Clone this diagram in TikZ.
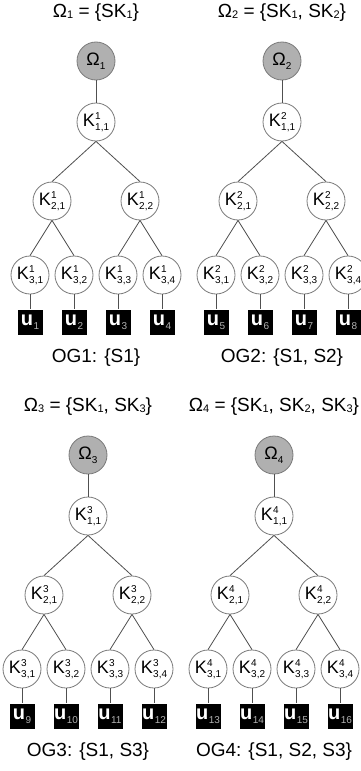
\documentclass[tikz,border=0pt]{standalone}
\usepackage{fontspec}
\setmainfont{Liberation Sans}
\newcommand{\ts}[1]{\raisebox{-1pt}{\fontsize{11}{11}\selectfont #1}}
\newcommand{\kl}[3]{K\kern0.3pt\makebox[0pt][l]{\raisebox{7pt}{\fontsize{10}{10}\selectfont #1}}\raisebox{-4.5pt}{\fontsize{10}{10}\selectfont #2,#3}}
\newcommand{\oml}[1]{\fontsize{18}{18}\selectfont\char"03A9\raisebox{-4pt}{\fontsize{10}{10}\selectfont #1}}
\newcommand{\ul}[1]{\textbf{u}\kern0.5pt\raisebox{-4pt}{\fontsize{10}{10}\selectfont\color{black!30}#1}}
\definecolor{rootgray}{HTML}{B0B0B0}
\definecolor{edgegray}{HTML}{505050}
\definecolor{ringgray}{HTML}{7A7A7A}
\tikzset{
  knode/.style={circle, draw=ringgray, line width=0.8pt, fill=white, minimum size=38pt, inner sep=0pt, font=\fontsize{18}{18}\selectfont},
  rnode/.style={knode, fill=rootgray, draw=ringgray},
  ubox/.style={rectangle, fill=black, minimum width=25pt, minimum height=25pt, inner sep=0pt, text=white, font=\fontsize{20}{20}\selectfont},
  link/.style={draw=edgegray, line width=0.8pt},
  ttext/.style={font=\fontsize{19}{22}\selectfont, inner sep=0pt},
}
\begin{document}
\begin{tikzpicture}[x=1pt,y=-1pt]
\useasboundingbox (0,0) rectangle (360,771);
\fill[white] (0,0) rectangle (360,771);
\foreach \t/\cx/\ry/\ttl/\og/\n in {
  1/96/61/{\char"03A9\ts{1} = \{SK\ts{1}\}}/{OG1: \{S1\}}/0,
  2/282/61/{\char"03A9\ts{2} = \{SK\ts{1}, SK\ts{2}\}}/{OG2: \{S1, S2\}}/4,
  3/88/455/{\char"03A9\ts{3} = \{SK\ts{1}, SK\ts{3}\}}/{OG3: \{S1, S3\}}/8,
  4/274/455/{\char"03A9\ts{4} = \{SK\ts{1}, SK\ts{2}, SK\ts{3}\}}/{OG4: \{S1, S2, S3\}}/12}{
  \node[ttext] (T\t) at (\cx,\ry-48) {\ttl};
  \node[rnode] (R\t) at (\cx,\ry) {\oml{\t}};
  \node[knode] (A\t) at (\cx,\ry+61) {\kl{\t}{1}{1}};
  \node[knode] (B\t1) at (\cx-44,\ry+140) {\kl{\t}{2}{1}};
  \node[knode] (B\t2) at (\cx+44,\ry+140) {\kl{\t}{2}{2}};
  \foreach \i/\dx in {1/-66,2/-22,3/22,4/66}{
    \pgfmathtruncatemacro{\un}{\n+\i}
    \node[knode] (C\t\i) at (\cx+\dx,\ry+214) {\kl{\t}{3}{\i}};
    \node[ubox] (U\t\i) at (\cx+\dx,\ry+261) {\ul{\un}};
    \draw[link] (C\t\i.south) -- (U\t\i.north);
  }
  \node[ttext] (G\t) at (\cx,\ry+297) {\og};
  \draw[link] (R\t.south) -- (A\t.north);
  \draw[link] (A\t.south) -- (B\t1.north);
  \draw[link] (A\t.south) -- (B\t2.north);
  \draw[link] (B\t1.south) -- (C\t1.north);
  \draw[link] (B\t1.south) -- (C\t2.north);
  \draw[link] (B\t2.south) -- (C\t3.north);
  \draw[link] (B\t2.south) -- (C\t4.north);
}
\end{tikzpicture}
\end{document}
